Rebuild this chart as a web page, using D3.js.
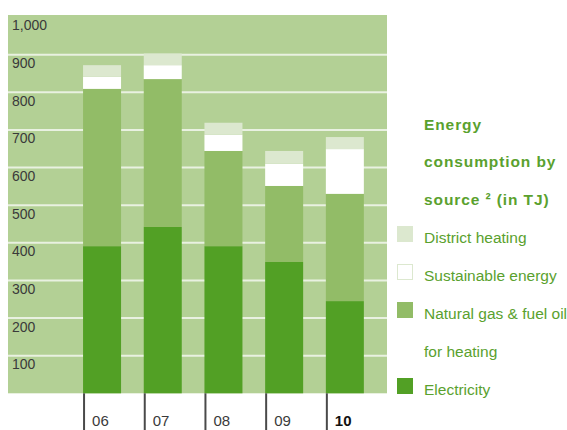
<!DOCTYPE html>
<html>
<head>
<meta charset="utf-8">
<script src="https://cdn.jsdelivr.net/npm/d3@7/dist/d3.min.js"></script>
<style>
  html, body { margin: 0; padding: 0; background: #fff; }
  svg { display: block; font-family: "Liberation Sans", Arial, Helvetica, sans-serif; }
</style>
</head>
<body>
<svg id="chart" width="567" height="430"></svg>
<script>
// Energy consumption by source, in TJ
const years = ["06", "07", "08", "09", "10"];
const electricity = [391, 442, 391, 349, 245];
const naturalGas = [418, 393, 253, 202, 285];
const sustainable = [32, 37, 43, 59, 119];
const districtHeating = [31, 31, 32, 34, 32];
const yTicks = [100, 200, 300, 400, 500, 600, 700, 800, 900, 1000];
const seriesKeys = ["electricity", "naturalGas", "sustainable", "districtHeating"];
const seriesColors = {
  electricity: "#52a025",
  naturalGas: "#92bc67",
  sustainable: "#ffffff",
  districtHeating: "#dce8cf"
};
const legendItems = [
  { key: "districtHeating", lines: ["District heating"] },
  { key: "sustainable", lines: ["Sustainable energy"] },
  { key: "naturalGas", lines: ["Natural gas & fuel oil", "for heating"] },
  { key: "electricity", lines: ["Electricity"] }
];
const titleLines = ["Energy", "consumption by", "source \u00b2 (in TJ)"];

const rows = years.map((y, i) => ({
  year: y,
  electricity: electricity[i],
  naturalGas: naturalGas[i],
  sustainable: sustainable[i],
  districtHeating: districtHeating[i]
}));

const svg = d3.select("#chart");
const plot = { left: 8, right: 387, top: 15, bottom: 393.3 };

const y = d3.scaleLinear().domain([0, 1000]).range([plot.bottom, 17]);
const x = d3.scaleBand()
  .domain(years)
  .range([71.7, 375.2])
  .paddingInner(0.374)
  .paddingOuter(0.187);

// plot background
svg.append("rect")
  .attr("x", plot.left).attr("y", plot.top)
  .attr("width", plot.right - plot.left)
  .attr("height", plot.bottom - plot.top)
  .attr("fill", "#b3d095");

// horizontal gridlines
svg.append("g").selectAll("line")
  .data(yTicks.filter(d => d < 1000))
  .join("line")
  .attr("x1", plot.left).attr("x2", plot.right)
  .attr("y1", d => y(d)).attr("y2", d => y(d))
  .attr("stroke", "#e9f1e1").attr("stroke-width", 2);

// y tick labels, sitting just below each gridline
svg.append("g").selectAll("text")
  .data(yTicks)
  .join("text")
  .attr("x", 12)
  .attr("y", d => d === 1000 ? 29.5 : y(d) + 13.5)
  .attr("font-size", 14)
  .attr("fill", "#3a3a3a")
  .text(d => d3.format(",")(d));

// stacked bars
const stack = d3.stack().keys(seriesKeys)(rows);
svg.append("g").selectAll("g")
  .data(stack)
  .join("g")
  .attr("fill", d => seriesColors[d.key])
  .selectAll("rect")
  .data(d => d)
  .join("rect")
  .attr("x", d => x(d.data.year))
  .attr("width", x.bandwidth())
  .attr("y", d => y(d[1]))
  .attr("height", d => y(d[0]) - y(d[1]));

// x axis ticks and year labels
const xg = svg.append("g");
xg.selectAll("line")
  .data(years)
  .join("line")
  .attr("x1", d => x(d) + 1).attr("x2", d => x(d) + 1)
  .attr("y1", plot.bottom).attr("y2", 430)
  .attr("stroke", "#4a4a4a").attr("stroke-width", 2);
xg.selectAll("text")
  .data(years)
  .join("text")
  .attr("x", d => x(d) + 9)
  .attr("y", 426)
  .attr("font-size", 15)
  .attr("font-weight", (d, i) => i === years.length - 1 ? "bold" : "normal")
  .attr("fill", (d, i) => i === years.length - 1 ? "#111" : "#3a3a3a")
  .text(d => d);

// legend title
const legend = svg.append("g");
legend.selectAll("text.title")
  .data(titleLines)
  .join("text")
  .attr("class", "title")
  .attr("x", 424)
  .attr("y", (d, i) => 129.5 + i * 37.5)
  .attr("font-size", 15.5)
  .attr("font-weight", "bold")
  .attr("letter-spacing", 0.9)
  .attr("fill", "#5aa12e")
  .text(d => d);

// legend entries
const itemTop = [226, 264, 302, 378];
legendItems.forEach((item, i) => {
  legend.append("rect")
    .attr("x", item.key === "sustainable" ? 397.5 : 397)
    .attr("y", item.key === "sustainable" ? itemTop[i] + 0.5 : itemTop[i])
    .attr("width", item.key === "sustainable" ? 15 : 16)
    .attr("height", item.key === "sustainable" ? 15 : 16)
    .attr("fill", seriesColors[item.key])
    .attr("stroke", item.key === "sustainable" ? "#dce8cf" : "none")
    .attr("stroke-width", 1);
  item.lines.forEach((line, j) => {
    legend.append("text")
      .attr("x", 424)
      .attr("y", itemTop[i] + 16.5 + j * 38)
      .attr("font-size", 15.5)
      .attr("fill", "#5aa12e")
      .text(line);
  });
});
</script>
</body>
</html>
